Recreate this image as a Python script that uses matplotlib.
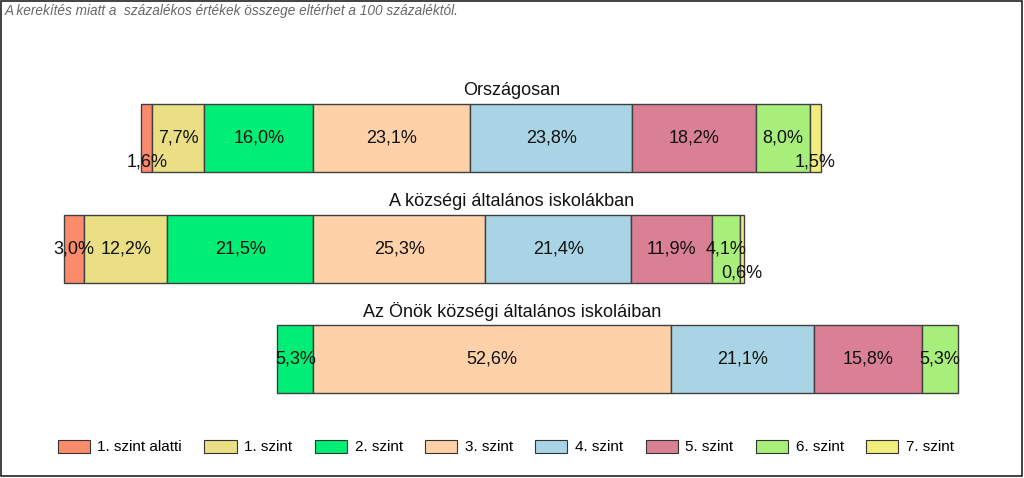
import numpy as np
import matplotlib
matplotlib.use("Agg")
import matplotlib.pyplot as plt
from matplotlib.patches import Rectangle

plt.rcParams['font.family'] = ['Liberation Sans', 'DejaVu Sans']

# adatok
groups = ["Országosan", "A községi általános iskolákban", "Az Önök községi általános iskoláiban"]
levels = ["1. szint alatti", "1. szint", "2. szint", "3. szint", "4. szint", "5. szint", "6. szint", "7. szint"]
orszagos = [1.6, 7.7, 16.0, 23.1, 23.8, 18.2, 8.0, 1.5]
kozsegi = [3.0, 12.2, 21.5, 25.3, 21.4, 11.9, 4.1, 0.6]
onok = [0.0, 0.0, 5.3, 52.6, 21.1, 15.8, 5.3, 0.0]
colors = ["#FA8C6C", "#EADF84", "#00EE76", "#FFD1A8", "#A8D4E6", "#DA8095", "#A8EE7A", "#F2EE7E"]
n_below = 3  # a 3. szint alatti szintek balra kerulnek

data = np.array([orszagos, kozsegi, onok])

fig = plt.figure(figsize=(10.24, 4.78), dpi=100)
ax = fig.add_axes([0, 0, 1, 1])
x0, x1 = -313.3 / 6.8, (1024 - 313.3) / 6.8
ax.set_xlim(x0, x1)
ax.set_ylim((478 - 138) / 110.7, -138 / 110.7)
ax.axis("off")

bar_h = 0.615
for i, row in enumerate(data):
    start = -row[:n_below].sum()
    lefts = start + np.concatenate(([0], np.cumsum(row)[:-1]))
    for j, v in enumerate(row):
        if v <= 0:
            continue
        ax.barh(i, v, left=lefts[j], height=bar_h, color=colors[j],
                edgecolor="#404040", linewidth=1.0)
        cx = lefts[j] + v / 2
        cy = i + 0.215 if v < 2 else i
        ax.text(cx, cy, f"{v:.1f}%".replace(".", ","), ha="center", va="center",
                fontsize=13, color="#111111")
    ax.text(x0 + 0.5 * (x1 - x0), i - 0.43, groups[i], ha="center", va="center",
            fontsize=13, color="#111111")

handles = [Rectangle((0, 0), 1, 1, facecolor=c, edgecolor="#333333", linewidth=0.8) for c in colors]
fig.legend(handles, levels, loc="center", bbox_to_anchor=(0.494, 1 - 447 / 478), ncol=8,
           frameon=False, fontsize=11, handlelength=2.1, handleheight=0.92,
           handletextpad=0.5, columnspacing=1.47)

fig.text(5 / 1024, 1 - 11 / 478, "A kerekítés miatt a  százalékos értékek összege eltérhet a 100 százaléktól.",
         fontsize=9.8, style="italic", color="#666666", ha="left", va="center")

fig.patches.append(Rectangle((0.001, 0.004), 0.997, 0.994, transform=fig.transFigure,
                             fill=False, edgecolor="#222222", linewidth=1.2))

fig.savefig("out.png", dpi=100)
